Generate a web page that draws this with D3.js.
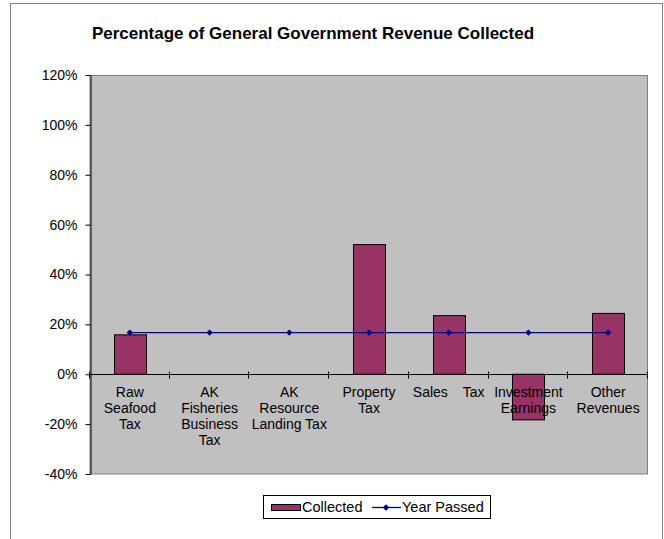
<!DOCTYPE html>
<html>
<head>
<meta charset="utf-8">
<script src="https://cdn.jsdelivr.net/npm/d3@7/dist/d3.min.js"></script>
<style>
  html, body { margin: 0; padding: 0; background: #fff; }
  svg { display: block; }
  text { font-family: Arial, "Liberation Sans", sans-serif; fill: #000; }
</style>
</head>
<body>
<svg id="chart" width="664" height="539"></svg>
<script>
// Revenue categories (line breaks mark where each axis label wraps)
const categories = [
  "Raw\nSeafood\nTax",
  "AK\nFisheries\nBusiness\nTax",
  "AK\nResource\nLanding Tax",
  "Property\nTax",
  "Sales Tax",
  "Investment\nEarnings",
  "Other\nRevenues"
];
// Share of budgeted revenue collected so far (null = nothing reported)
const collected = [0.158, null, null, 0.52, 0.235, -0.183, 0.244];
// Share of the fiscal year that has passed
const yearPassed = [0.167, 0.167, 0.167, 0.167, 0.167, 0.167, 0.167];
// Value axis ticks
const yTicks = [-0.4, -0.2, 0, 0.2, 0.4, 0.6, 0.8, 1.0, 1.2];

const svg = d3.select("#chart");
const plot = { left: 90, right: 648, top: 75, bottom: 474 };

const x = d3.scaleBand().domain(d3.range(categories.length))
  .range([plot.left, plot.right]).paddingInner(0).paddingOuter(0);
const y = d3.scaleLinear().domain([-0.4, 1.2]).range([plot.bottom, plot.top]);

// Chart area frame
svg.append("rect").attr("x", 10.5).attr("y", 3.5).attr("width", 652).attr("height", 600)
  .attr("fill", "#fff").attr("stroke", "#808080").attr("stroke-width", 1);

// Title
svg.append("text").attr("x", 313).attr("y", 39).attr("text-anchor", "middle")
  .style("font-size", "17px").style("font-weight", "bold")
  .text("Percentage of General Government Revenue Collected");

// Plot area
svg.append("rect").attr("x", plot.left).attr("y", plot.top + 0.5)
  .attr("width", plot.right - plot.left - 0.5).attr("height", plot.bottom - plot.top - 0.5)
  .attr("fill", "#c0c0c0").attr("stroke", "#808080").attr("stroke-width", 1);

// Value axis (plain hyphen for negatives)
const pct = d3.format(".0%");
const yAxis = svg.append("g").attr("transform", `translate(${plot.left + 0.5},0)`)
  .call(d3.axisLeft(y).tickValues(yTicks).tickFormat(d => pct(d).replace("\u2212", "-"))
    .tickSize(5).tickPadding(8).tickSizeOuter(0));
yAxis.attr("font-family", null).attr("font-size", null);
yAxis.select(".domain").attr("stroke", "#000");
yAxis.selectAll(".tick line").attr("stroke", "#000");
yAxis.selectAll(".tick text").style("font-size", "14px");

// Bars
const bw = x.bandwidth() * 0.4;
svg.append("g").selectAll("rect")
  .data(collected.map((v, i) => ({ v, i })).filter(d => d.v !== null))
  .join("rect")
  .attr("x", d => Math.round(x(d.i) + (x.bandwidth() - bw) / 2) + 0.5)
  .attr("width", Math.round(bw))
  .attr("y", d => y(Math.max(0, d.v)))
  .attr("height", d => Math.abs(y(d.v) - y(0)))
  .attr("fill", "#993366").attr("stroke", "#000").attr("stroke-width", 1);

// Category axis at zero with crossing tick marks
const y0 = Math.round(y(0)) + 0.5;
svg.append("line").attr("x1", plot.left).attr("x2", plot.right).attr("y1", y0).attr("y2", y0)
  .attr("stroke", "#000");
const bounds = d3.range(categories.length + 1).map(i => i < categories.length ? x(i) : plot.right);
svg.append("g").selectAll("line").data(bounds).join("line")
  .attr("x1", d => Math.round(d) - 0.5).attr("x2", d => Math.round(d) - 0.5)
  .attr("y1", y0 - 3).attr("y2", y0 + 4).attr("stroke", "#000");

// Category labels
const lineH = 16.3;
const labels = svg.append("g").style("font-size", "14px");
categories.forEach((c, i) => {
  const lines = c.split("\n");
  const cx = x(i) + x.bandwidth() / 2;
  lines.forEach((ln, j) => {
    const by = y0 + 22 + j * lineH;
    const words = ln.split(" ");
    if (lines.length === 1 && words.length > 1) {
      // single-line label spread across the category width
      labels.append("text").attr("x", x(i) + 4).attr("y", by).text(words[0]);
      labels.append("text").attr("x", x(i) + x.bandwidth() - 4).attr("y", by)
        .attr("text-anchor", "end").text(words[words.length - 1]);
    } else {
      labels.append("text").attr("x", cx).attr("y", by).attr("text-anchor", "middle").text(ln);
    }
  });
});

// Year-passed line with diamond markers
const cxOf = i => x(i) + x.bandwidth() / 2;
svg.append("path")
  .attr("d", d3.line().x((d, i) => cxOf(i)).y(d => y(d))(yearPassed))
  .attr("fill", "none").attr("stroke", "#000080").attr("stroke-width", 1.3);
const diamond = d3.symbol().type(d3.symbolDiamond2).size(26);
svg.append("g").selectAll("path").data(yearPassed).join("path")
  .attr("transform", (d, i) => `translate(${cxOf(i)},${y(d)})`)
  .attr("d", diamond).attr("fill", "#000080");

// Legend
const lg = svg.append("g");
lg.append("rect").attr("x", 263.5).attr("y", 495.5).attr("width", 227).attr("height", 23)
  .attr("fill", "#fff").attr("stroke", "#000");
lg.append("rect").attr("x", 271.5).attr("y", 504.5).attr("width", 29).attr("height", 6)
  .attr("fill", "#993366").attr("stroke", "#000");
lg.append("text").attr("x", 302).attr("y", 512).style("font-size", "14.5px").text("Collected");
lg.append("line").attr("x1", 372).attr("x2", 401).attr("y1", 507.5).attr("y2", 507.5)
  .attr("stroke", "#000080").attr("stroke-width", 1.3);
lg.append("path").attr("transform", "translate(386,507.5)").attr("d", diamond).attr("fill", "#000080");
lg.append("text").attr("x", 402).attr("y", 512).style("font-size", "14.5px").text("Year Passed");
</script>
</body>
</html>
